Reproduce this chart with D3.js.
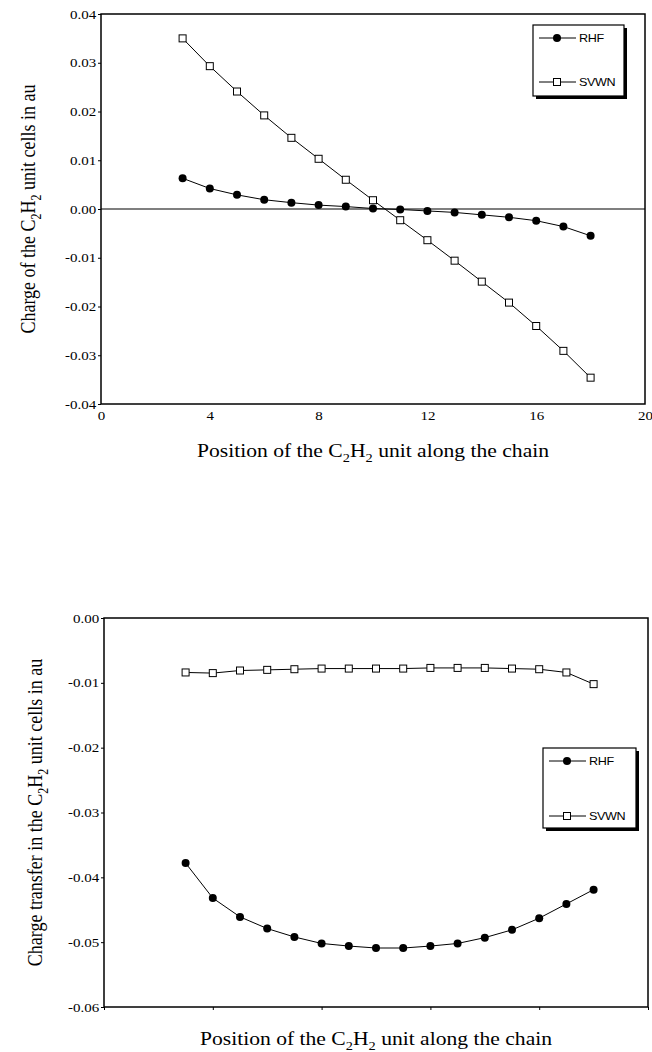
<!DOCTYPE html>
<html lang="en">
  <head>
    <meta charset="utf-8">
    <title>C2H2 unit charges</title>
    <script type="text/javascript" src="https://cdn.jsdelivr.net/npm/d3@7"></script>
    <style type="text/css">
      body { margin: 0; background: #fff; }
      .title { font-family: "Liberation Serif", "Times New Roman", serif; font-size: 18px; fill: #000; }
      .legend text { font-family: "Liberation Sans", Arial, sans-serif; font-size: 10.5px; fill: #000; }
    </style>
  </head>
  <body>
    <script type="text/javascript">

      //Position of the unit along the chain
      var positions = [3, 4, 5, 6, 7, 8, 9, 10, 11, 12, 13, 14, 15, 16, 17, 18];

      //Upper panel: charge of the unit cells
      var chargeRHF  = [0.0063, 0.0042, 0.0029, 0.0019, 0.0013, 0.0008, 0.0005, 0.0001,
                        -0.0001, -0.0004, -0.0007, -0.0012, -0.0017, -0.0024, -0.0036, -0.0055];
      var chargeSVWN = [0.0350, 0.0293, 0.0241, 0.0192, 0.0146, 0.0103, 0.0060, 0.0018,
                        -0.0023, -0.0064, -0.0106, -0.0149, -0.0192, -0.0240, -0.0291, -0.0346];

      //Lower panel: charge transfer in the unit cells
      var transferRHF  = [-0.0378, -0.0432, -0.0461, -0.0479, -0.0492, -0.0502, -0.0506, -0.0509,
                          -0.0509, -0.0506, -0.0502, -0.0493, -0.0481, -0.0463, -0.0441, -0.0419];
      var transferSVWN = [-0.0084, -0.0085, -0.0081, -0.0080, -0.0079, -0.0078, -0.0078, -0.0078,
                          -0.0078, -0.0077, -0.0077, -0.0077, -0.0078, -0.0079, -0.0084, -0.0102];

      //Tick values
      var xTicks = [0, 4, 8, 12, 16, 20];
      var chargeTicks = [0.04, 0.03, 0.02, 0.01, 0.00, -0.01, -0.02, -0.03, -0.04];
      var transferTicks = [0.00, -0.01, -0.02, -0.03, -0.04, -0.05, -0.06];

      var w = 652;
      var h = 1052;
      var stretch = 1.2;  //the scan is wider than it is tall

      var svg = d3.select("body")
            .append("svg")
            .attr("width", w)
            .attr("height", h);

      //Writes "... C2H2 ..." with subscripts into a text element
      function writeTitle(text, before, after) {
        text.append("tspan").text(before + "C");
        text.append("tspan").attr("font-size", "12px").attr("dy", 5).text("2");
        text.append("tspan").attr("dy", -5).text("H");
        text.append("tspan").attr("font-size", "12px").attr("dy", 5).text("2");
        text.append("tspan").attr("dy", -5).text(after);
      }

      function styleTicks(a) {
        a.select(".domain").remove();
        a.attr("font-family", "'Liberation Serif', 'Times New Roman', serif")
         .attr("font-size", 12.5);
        a.selectAll("text").attr("transform", "scale(" + stretch + ",1)");
      }

      function drawPanel(p) {
        var xScale = d3.scaleLinear().domain([0, 20]).range([p.left, p.right]);
        var yScale = d3.scaleLinear().domain(p.yDomain).range([p.bottom, p.top]);

        var g = svg.append("g");

        //Y axis
        var yAxis = d3.axisLeft(yScale)
                      .tickValues(p.yTicks)
                      .tickSize(3)
                      .tickPadding(1)
                      .tickFormat(function(d) { return d.toFixed(2); });
        g.append("g")
          .attr("transform", "translate(" + p.left + ",0)")
          .call(yAxis)
          .call(styleTicks);

        //X axis
        var xAxis = d3.axisBottom(xScale)
                      .tickValues(xTicks)
                      .tickSize(p.xLabels ? 0 : 3)
                      .tickPadding(7)
                      .tickFormat(function(d) { return p.xLabels ? d : ""; });
        g.append("g")
          .attr("transform", "translate(0," + p.bottom + ")")
          .call(xAxis)
          .call(styleTicks);

        //Zero line
        if (p.zeroLine) {
          g.append("line")
            .attr("x1", p.left).attr("x2", p.right)
            .attr("y1", yScale(0)).attr("y2", yScale(0))
            .attr("stroke", "#000").attr("stroke-width", 1.2);
        }

        //Frame
        g.append("rect")
          .attr("x", p.left).attr("y", p.top)
          .attr("width", p.right - p.left).attr("height", p.bottom - p.top)
          .attr("fill", "none").attr("stroke", "#000").attr("stroke-width", 1.5);

        var line = d3.line()
                     .x(function(d, i) { return xScale(positions[i]); })
                     .y(function(d) { return yScale(d); });

        //RHF
        g.append("path")
          .datum(p.rhf)
          .attr("fill", "none").attr("stroke", "#000").attr("stroke-width", 1)
          .attr("d", line);
        g.selectAll(".rhf")
          .data(p.rhf)
          .enter()
          .append("circle")
          .attr("class", "rhf")
          .attr("cx", function(d, i) { return xScale(positions[i]); })
          .attr("cy", function(d) { return yScale(d); })
          .attr("r", 4)
          .attr("fill", "#000");

        //SVWN
        g.append("path")
          .datum(p.svwn)
          .attr("fill", "none").attr("stroke", "#000").attr("stroke-width", 1)
          .attr("d", line);
        g.selectAll(".svwn")
          .data(p.svwn)
          .enter()
          .append("rect")
          .attr("class", "svwn")
          .attr("x", function(d, i) { return xScale(positions[i]) - 3.5; })
          .attr("y", function(d) { return yScale(d) - 3.5; })
          .attr("width", 7).attr("height", 7)
          .attr("fill", "#fff").attr("stroke", "#000").attr("stroke-width", 1);

        //Axis titles
        var xt = g.append("text")
          .attr("class", "title")
          .attr("text-anchor", "middle")
          .attr("transform", "translate(" + (p.left + p.right) / 2 + "," + p.xTitleY + ") scale(" + stretch + ",1)");
        writeTitle(xt, "Position of the ", " unit along the chain");

        var yt = g.append("text")
          .attr("class", "title")
          .attr("text-anchor", "middle")
          .attr("transform", "translate(" + p.yTitleX + "," + (p.top + p.bottom) / 2 + ") scale(" + stretch + ",1) rotate(-90)");
        writeTitle(yt, p.yTitleBefore, " unit cells in au");

        //Legend
        var L = p.legend;
        var lg = g.append("g").attr("class", "legend");
        lg.append("rect")
          .attr("x", L.x + 3).attr("y", L.y + 3)
          .attr("width", L.w).attr("height", L.h)
          .attr("fill", "#000");
        lg.append("rect")
          .attr("x", L.x).attr("y", L.y)
          .attr("width", L.w).attr("height", L.h)
          .attr("fill", "#fff").attr("stroke", "#000").attr("stroke-width", 1.2);

        var rows = [{name: "RHF", y: L.y + L.row1}, {name: "SVWN", y: L.y + L.row2}];
        rows.forEach(function(r) {
          lg.append("line")
            .attr("x1", L.x + 6).attr("x2", L.x + 43)
            .attr("y1", r.y).attr("y2", r.y)
            .attr("stroke", "#000").attr("stroke-width", 1);
          if (r.name === "RHF") {
            lg.append("circle").attr("cx", L.x + 24).attr("cy", r.y).attr("r", 4).attr("fill", "#000");
          } else {
            lg.append("rect")
              .attr("x", L.x + 20.5).attr("y", r.y - 3.5)
              .attr("width", 7).attr("height", 7)
              .attr("fill", "#fff").attr("stroke", "#000");
          }
          lg.append("text")
            .attr("transform", "translate(" + (L.x + 46) + "," + (r.y + 4) + ") scale(" + stretch + ",1)")
            .attr("letter-spacing", "-0.3px")
            .text(r.name);
        });
      }

      drawPanel({
        left: 101, right: 645, top: 14, bottom: 404,
        yDomain: [-0.04, 0.04], yTicks: chargeTicks,
        rhf: chargeRHF, svwn: chargeSVWN,
        xLabels: true, zeroLine: true,
        xTitleY: 457, yTitleX: 35, yTitleBefore: "Charge of the ",
        legend: {x: 533, y: 25, w: 91, h: 71, row1: 13, row2: 57}
      });

      drawPanel({
        left: 104, right: 648, top: 618, bottom: 1007,
        yDomain: [-0.06, 0.00], yTicks: transferTicks,
        rhf: transferRHF, svwn: transferSVWN,
        xLabels: false, zeroLine: false,
        xTitleY: 1045, yTitleX: 42, yTitleBefore: "Charge transfer in the ",
        legend: {x: 543, y: 748, w: 93, h: 80, row1: 13, row2: 68}
      });

    </script>
  </body>
</html>
